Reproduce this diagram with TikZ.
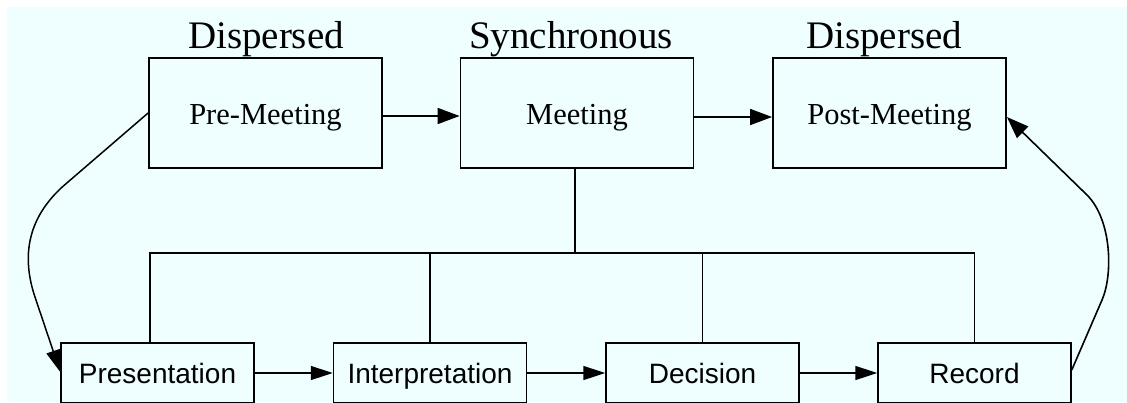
\documentclass[tikz,border=0pt]{standalone}
\usepackage{fontspec}
\setmainfont{Liberation Serif}
\newfontfamily\boxsans{Liberation Sans}
\usetikzlibrary{arrows.meta}
\definecolor{paper}{RGB}{239,255,255}
\begin{document}
\begin{tikzpicture}[x=1pt,y=-1pt,
  phase/.style={draw, line width=1.8pt, minimum width=233pt, minimum height=110pt,
    inner sep=0pt, text height=22pt, text depth=0pt, font=\fontsize{30.5}{36}\selectfont},
  stepbox/.style={draw, line width=1.5pt, minimum width=193pt, minimum height=60pt,
    inner sep=0pt, text height=21pt, text depth=0pt, font=\boxsans\fontsize{28}{33}\selectfont},
  mode/.style={anchor=base, inner sep=0pt, font=\fontsize{39}{46}\selectfont},
  flow/.style={line width=1.6pt, -{Triangle[length=22pt,width=16pt]}},
  flowlow/.style={line width=1.5pt, -{Triangle[length=22pt,width=14pt]}},
  link/.style={line width=1.7pt}]
\useasboundingbox (0,0) rectangle (1127,402);
\clip (0,0) rectangle (1127,402);
\fill[paper] (7,7) rectangle (1127,402);

% meeting phases
\node[phase] (pre)  at (265.5,113) {Pre-Meeting};
\node[phase] (meet) at (577,113)   {Meeting};
\node[phase] (post) at (889.5,113) {Post-Meeting};
\node[mode] (m1) at (266,48) {Dispersed};
\node[mode] (m2) at (571,48) {Synchronous};
\node[mode] (m3) at (884,48) {Dispersed};

% activities during the meeting
\node[stepbox] (pres)   at (157.5,373) {Presentation};
\node[stepbox] (interp) at (430,373)   {Interpretation};
\node[stepbox] (dec)    at (702.5,373) {Decision};
\node[stepbox] (rec)    at (974.5,373) {Record};

% tree from the meeting to its activities
\coordinate (hub)  at (575,253);
\coordinate (barL) at (150,253);
\draw[link] (meet.south -| hub) -- (hub);
\draw[link] (pres.north -| barL) -- (barL) -- (rec.north |- barL) -- (rec.north);
\draw[link] (interp.north) -- (interp.north |- barL);
\draw[link] (dec.north) -- (dec.north |- barL);

% phase sequence
\draw[flow] ([yshift=-3pt]pre.east) -- ([yshift=-3pt]meet.west);
\draw[flow] ([yshift=-4pt]meet.east) -- ([yshift=-4pt]post.west);

% activity sequence
\draw[flowlow] (pres.east) -- (interp.west);
\draw[flowlow] (interp.east) -- (dec.west);
\draw[flowlow] (dec.east) -- (rec.west);

% entry and exit loops
\draw[flowlow] (pre.west) -- (68,182) .. controls (28,215) and (20,255) .. (36,300)
  -- ([yshift=1pt]pres.west);
\draw[flow] ([yshift=3pt]rec.east) -- (1102,300) .. controls (1113,275) and (1112,220) .. (1087,195)
  -- ([yshift=-4pt]post.east);
\end{tikzpicture}
\end{document}
